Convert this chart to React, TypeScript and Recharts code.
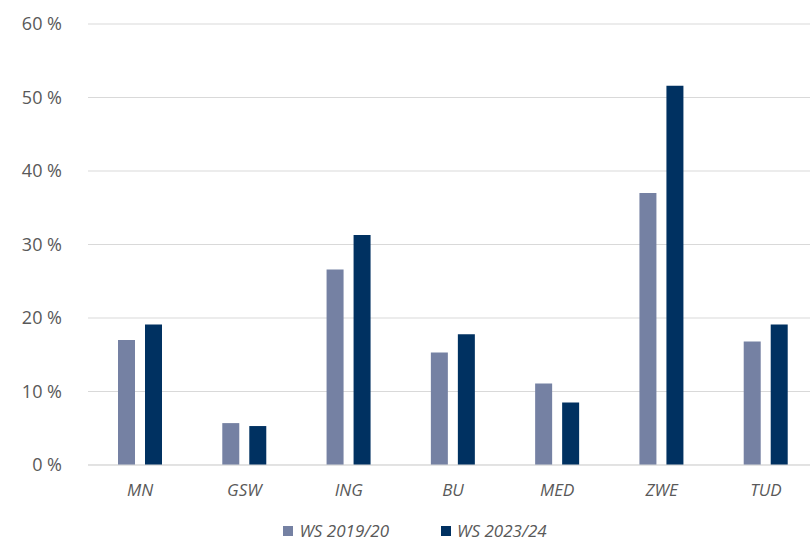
import React from 'react';
import { BarChart, Bar, XAxis, YAxis, CartesianGrid } from 'recharts';

const categories = ['MN', 'GSW', 'ING', 'BU', 'MED', 'ZWE', 'TUD'];
const ws2019 = [17.0, 5.7, 26.6, 15.3, 11.1, 37.0, 16.8];
const ws2023 = [19.1, 5.3, 31.3, 17.8, 8.5, 51.6, 19.1];
const seriesNames = ['WS 2019/20', 'WS 2023/24'];
const seriesColors = ['#7581a3', '#003161'];
const yTicks = [0, 10, 20, 30, 40, 50, 60];

const data = categories.map((name, i) => ({
  name,
  a: ws2019[i],
  b: ws2023[i],
}));

const font = '"Open Sans", "Noto Sans", sans-serif';
const textColor = '#595959';

const App: React.FC = () => {
  return (
    <div
      style={{
        position: 'absolute',
        left: 0,
        top: 0,
        width: 810,
        height: 541,
        overflow: 'hidden',
        background: '#fff',
        fontFamily: font,
      }}
    >
      <BarChart
        width={818}
        height={541}
        data={data}
        margin={{ top: 24, right: 0, bottom: 46, left: 0 }}
        barSize={17}
        barGap={10}
      >
        <CartesianGrid vertical={false} stroke="#d9d9d9" />
        <XAxis
          dataKey="name"
          height={30}
          tickLine={false}
          tickSize={0}
          tickMargin={19}
          axisLine={{ stroke: '#d9d9d9' }}
          tick={{ fill: textColor, fontSize: 17, fontStyle: 'italic', fontFamily: font }}
        />
        <YAxis
          width={88}
          domain={[0, 60]}
          ticks={yTicks}
          axisLine={false}
          tickLine={false}
          tickSize={0}
          tickMargin={26}
          tickFormatter={(v: number) => `${v} %`}
          tick={{ fill: textColor, fontSize: 18, fontFamily: font }}
        />
        <Bar dataKey="a" name={seriesNames[0]} fill={seriesColors[0]} isAnimationActive={false} />
        <Bar dataKey="b" name={seriesNames[1]} fill={seriesColors[1]} isAnimationActive={false} />
      </BarChart>
      <div
        style={{
          position: 'absolute',
          top: 522,
          left: 0,
          width: 830,
          display: 'flex',
          justifyContent: 'center',
          gap: 52,
          fontSize: 17,
          lineHeight: '18px',
          fontStyle: 'italic',
          color: textColor,
        }}
      >
        {seriesNames.map((n, i) => (
          <div key={n} style={{ display: 'flex', alignItems: 'center', gap: 6 }}>
            <span style={{ width: 10, height: 10, background: seriesColors[i], display: 'inline-block' }} />
            <span>{n}</span>
          </div>
        ))}
      </div>
    </div>
  );
};

export default App;
